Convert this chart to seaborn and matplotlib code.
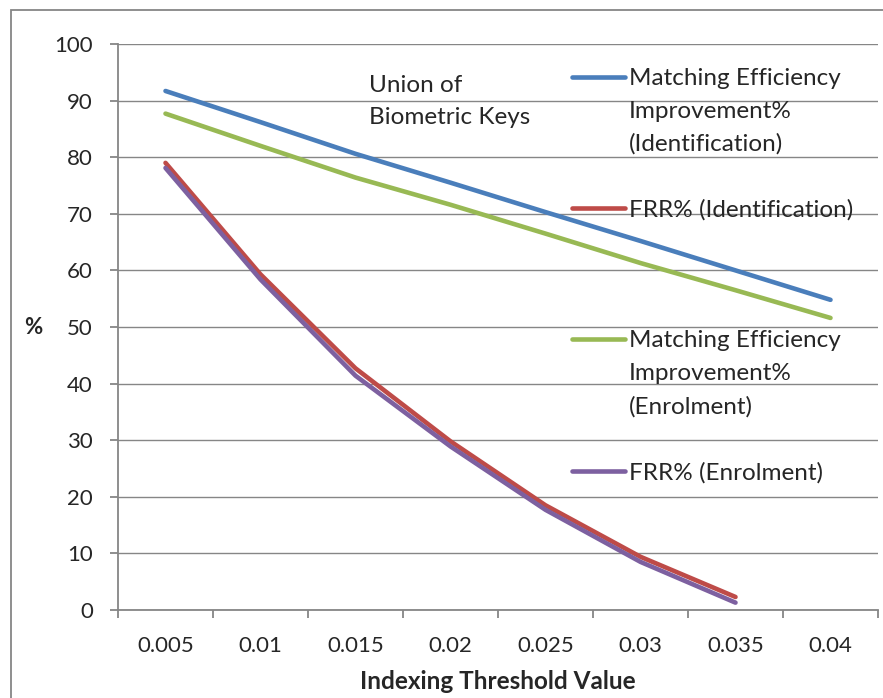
import pandas as pd
import matplotlib.pyplot as plt
import seaborn as sns
from matplotlib.lines import Line2D
from matplotlib.patches import Rectangle

# values
thresholds = ["0.005", "0.01", "0.015", "0.02", "0.025", "0.03", "0.035", "0.04"]
eff_ident = [91.7, 86.2, 80.6, 75.5, 70.3, 65.2, 60.0, 54.8]
frr_ident = [79.0, 59.3, 42.7, 29.8, 18.5, 9.4, 2.3, None]
eff_enrol = [87.7, 82.0, 76.4, 71.6, 66.5, 61.3, 56.5, 51.6]
frr_enrol = [78.1, 58.4, 41.4, 28.9, 17.7, 8.5, 1.3, None]

series = {
    "eff_ident": eff_ident,
    "frr_ident": frr_ident,
    "eff_enrol": eff_enrol,
    "frr_enrol": frr_enrol,
}
colors = {"eff_ident": "#4A7EBB", "frr_ident": "#BE4B48",
          "eff_enrol": "#98B954", "frr_enrol": "#7D60A0"}

rows = []
for name, vals in series.items():
    for t, v in zip(thresholds, vals):
        if v is not None:
            rows.append({"threshold": t, "value": v, "series": name})
df = pd.DataFrame(rows)

sns.set_style("white")
plt.rcParams["font.family"] = ["Lato", "DejaVu Sans"]
grid_col = "#868686"

fig = plt.figure(figsize=(8.83, 6.98), dpi=100)
ax = fig.add_axes([118 / 883, 1 - 610 / 698, 760 / 883, 566 / 698])

# outer chart border
fig.patches.append(Rectangle((11 / 883, -0.05), 1.2, 1 - 10 / 698 + 0.05,
                             transform=fig.transFigure, fill=False,
                             edgecolor=grid_col, linewidth=1.3))

sns.lineplot(data=df, x="threshold", y="value", hue="series",
             palette=colors, linewidth=3.3, ax=ax, legend=False, sort=False)

ax.set_xlim(-0.5, len(thresholds) - 0.5)
ax.set_ylim(0, 100)
ax.set_yticks(range(0, 101, 10))
ax.set_xticks(range(len(thresholds)))
ax.set_xticklabels(thresholds)
ax.set_xticks([i - 0.5 for i in range(len(thresholds) + 1)], minor=True)
ax.yaxis.grid(True, color=grid_col, linewidth=1.0)
ax.set_axisbelow(True)

for s in ["top", "right"]:
    ax.spines[s].set_visible(False)
for s in ["left", "bottom"]:
    ax.spines[s].set_color(grid_col)
    ax.spines[s].set_linewidth(1.3)

ax.tick_params(axis="y", length=6, width=1.3, color=grid_col, pad=12,
               labelsize=16, left=True)
ax.tick_params(axis="x", which="major", length=0, pad=19, labelsize=16)
ax.tick_params(axis="x", which="minor", length=6, width=1.3, color=grid_col,
               bottom=True)

ax.set_xlabel("Indexing Threshold Value", fontsize=17.5, fontweight="bold",
              va="center")
ax.xaxis.set_label_coords(0.5, -0.127)
ax.set_ylabel("%", rotation=0, fontsize=16, fontweight="bold", va="center")
ax.yaxis.set_label_coords(-0.112, 0.5)

ax.text(2.14, 89.8, "Union of\nBiometric Keys", fontsize=17.5, va="center",
        linespacing=1.65)

# legend: handle sits on first line of each label, like the spreadsheet
blank = Line2D([], [], color="none")
def h(c):
    return Line2D([], [], color=c, linewidth=3.3)
handles = [h(colors["eff_ident"]), blank, blank, blank,
           h(colors["frr_ident"]), blank, blank, blank,
           h(colors["eff_enrol"]), blank, blank, blank,
           h(colors["frr_enrol"])]
labels = ["Matching Efficiency", "Improvement%", "(Identification)", " ",
          "FRR% (Identification)", " ", " ", " ",
          "Matching Efficiency", "Improvement%", "(Enrolment)", " ",
          "FRR% (Enrolment)"]
ax.legend(handles, labels, loc="upper left", bbox_to_anchor=(572 / 883, 1 - 68 / 698),
          bbox_transform=fig.transFigure, frameon=False, fontsize=17.5,
          handlelength=2.2, handletextpad=0.15, labelspacing=0.48,
          borderpad=0, borderaxespad=0)

fig.savefig("out.png", dpi=100)
